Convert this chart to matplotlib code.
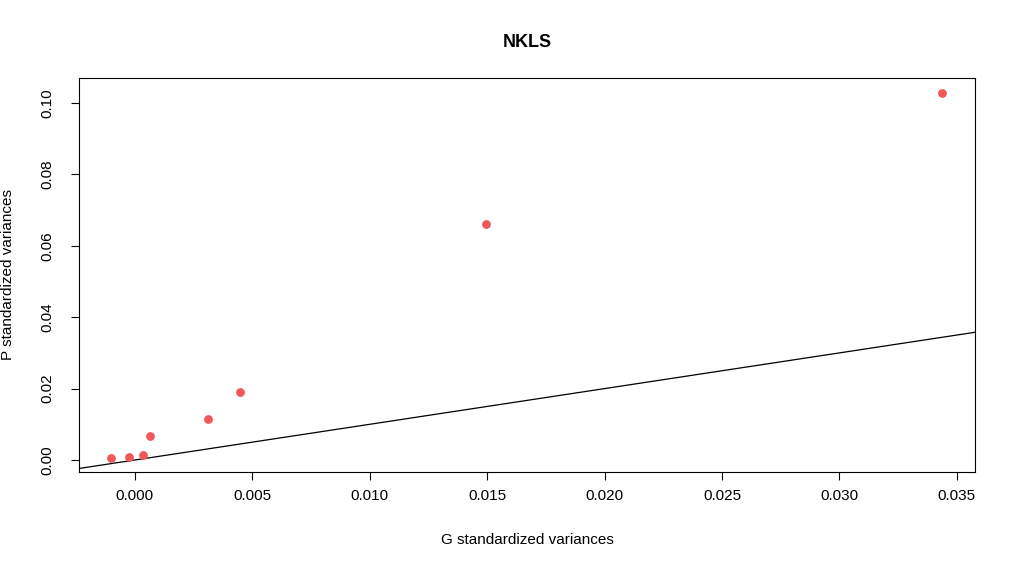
import matplotlib
matplotlib.use("Agg")
import matplotlib.pyplot as plt
import numpy as np

g_var = [-0.00102, -0.00026, 0.00034, 0.00064, 0.0031, 0.00447, 0.01495, 0.03437]
p_var = [0.0006, 0.0008, 0.0014, 0.0067, 0.0115, 0.019, 0.0661, 0.1028]
xticks = [0.000, 0.005, 0.010, 0.015, 0.020, 0.025, 0.030, 0.035]
yticks = [0.00, 0.02, 0.04, 0.06, 0.08, 0.10]

plt.rcParams['font.family'] = ['Liberation Sans', 'DejaVu Sans']
fig = plt.figure(figsize=(10.16, 5.71), dpi=100)
ax = fig.add_axes([0.0778, 0.1734, 0.8818, 0.69])
ax.scatter(g_var, p_var, s=40, color='#F0595A', zorder=3, linewidths=0)
ax.set_xlim(-0.00238, 0.03577)
ax.set_ylim(-0.00336, 0.1070)
xs = np.array(ax.get_xlim())
ax.plot(xs, xs, color='black', lw=0.9)
ax.set_xticks(xticks)
ax.set_xticklabels([f"{v:.3f}" for v in xticks])
ax.set_yticks(yticks)
ax.set_yticklabels([f"{v:.2f}" for v in yticks], rotation=90, va='center')
ax.tick_params(axis='x', labelsize=11, length=6, pad=6)
ax.tick_params(axis='y', labelsize=11, length=6, pad=12)
ax.set_xlabel("G standardized variances", fontsize=11, labelpad=22)
ax.set_ylabel("P standardized variances", fontsize=11, labelpad=18)
ax.set_title("NKLS", fontsize=13, fontweight='bold', pad=22)
fig.savefig("out.png", dpi=100)
